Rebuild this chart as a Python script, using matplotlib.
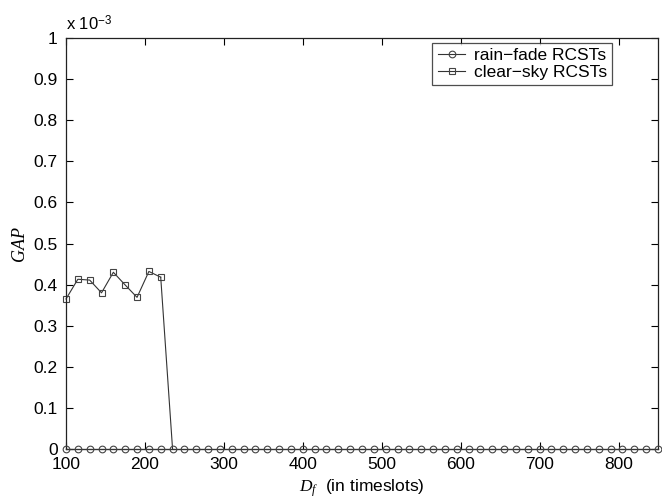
import matplotlib
matplotlib.use("Agg")
import matplotlib.pyplot as plt
import numpy as np

# Data (GAP values in units of 1e-3)
delay = list(range(100, 851, 15))
clear_sky_delay = list(range(100, 236, 15))
clear_sky = [0.365, 0.413, 0.411, 0.380, 0.430, 0.399, 0.369, 0.432, 0.418, 0.0]
rain_fade = [0.0] * len(delay)
xticks = [100, 200, 300, 400, 500, 600, 700, 800]
yticks = [0, 0.1, 0.2, 0.3, 0.4, 0.5, 0.6, 0.7, 0.8, 0.9, 1]

plt.rcParams['font.family'] = ['Liberation Sans', 'DejaVu Sans']
plt.rcParams['mathtext.fontset'] = 'custom'
plt.rcParams['mathtext.it'] = 'Liberation Serif:italic'
plt.rcParams['mathtext.rm'] = 'Liberation Sans'

fig = plt.figure(figsize=(6.62, 5.04), dpi=100)
ax = fig.add_axes([66/662, 1 - 449/504, (658-66)/662, (449-38)/504])

lc = '#333333'
ax.plot(delay, rain_fade, '-', color=lc, lw=0.8, marker='o', ms=4.8,
        mfc='none', mec='#444444', mew=0.8, label='rain\u2212fade RCSTs', clip_on=False, zorder=3)
ax.plot(clear_sky_delay[:-1], clear_sky[:-1], color=lc, lw=0.8, marker='s', ms=4.5,
        mfc='none', mec='#444444', mew=0.8, label='clear\u2212sky RCSTs', clip_on=False, zorder=2)
ax.plot(clear_sky_delay[-2:], clear_sky[-2:], '-', color=lc, lw=0.8, clip_on=False, zorder=2)

ax.set_xlim(100, 850)
ax.set_ylim(0, 1)
ax.set_xticks(xticks)
ax.set_xticklabels([str(t) for t in xticks])
ax.set_yticks(yticks)
ax.set_yticklabels(['0', '0.1', '0.2', '0.3', '0.4', '0.5', '0.6', '0.7', '0.8', '0.9', '1'])
ax.tick_params(direction='in', top=True, right=True, length=5, width=0.8,
               labelsize=12.5, pad=6)
for s in ax.spines.values():
    s.set_linewidth(0.9)
    s.set_color('#222222')

ax.text(0.0, 1.012, 'x 10$^{-3}$', transform=ax.transAxes, fontsize=12,
        ha='left', va='bottom')

ax.set_ylabel('GAP', fontsize=13, family='Liberation Serif', style='italic', labelpad=4)
ax.set_xlabel('$D_f$  (in timeslots)', fontsize=12.5, labelpad=4)

leg = ax.legend(loc='upper right', bbox_to_anchor=(0.923, 0.988), fontsize=12.5,
                frameon=True, fancybox=False, edgecolor='#222222',
                handlelength=1.6, borderpad=0.3, labelspacing=0.1,
                handletextpad=0.5, borderaxespad=0.0)
leg.get_frame().set_linewidth(0.9)

fig.savefig('out.png', dpi=100)
